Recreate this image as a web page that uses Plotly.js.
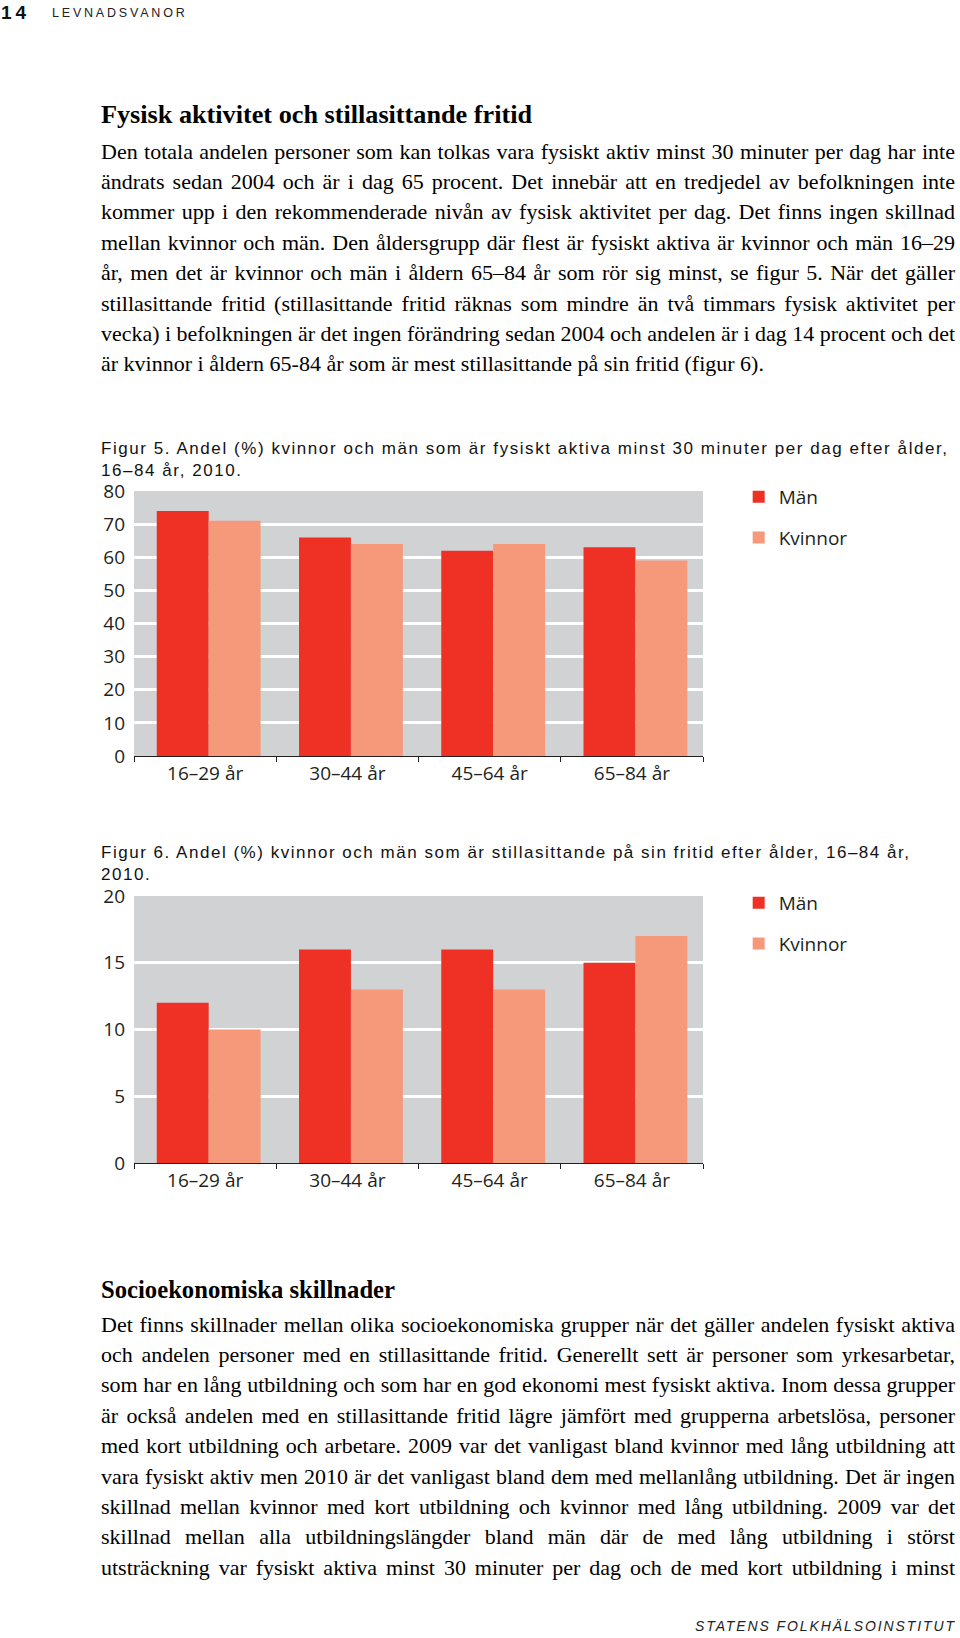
<!DOCTYPE html>
<html>
<head>
<meta charset="utf-8">
<script src="https://cdn.plot.ly/plotly-3.0.1.min.js"></script>
<style>
  html, body { margin:0; padding:0; background:#fff; }
  body { width:960px; height:1638px; position:relative; overflow:hidden; }
  .ln { position:absolute; left:101px; white-space:nowrap; color:#111; }
  .ln span { display:inline-block; transform-origin:0 50%; }
  .body { font-family:"Liberation Serif","Times New Roman",serif; font-size:22px; line-height:30px; height:30px; color:#000; }
  .head { font-family:"Liberation Serif","Times New Roman",serif; font-size:25px; font-weight:bold; line-height:30px; height:30px; color:#000; }
  .cap { font-family:"Liberation Sans",Arial,sans-serif; font-size:17px; line-height:14px; height:14px; color:#111; }
  .chart { position:absolute; left:0; width:960px; }
</style>
</head>
<body>
<div class="ln" style="left:1px;top:0px;font-family:'Liberation Sans',Arial,sans-serif;font-weight:bold;font-size:19px;line-height:25px;letter-spacing:4px;color:#111">14</div>
<div class="ln" style="left:52px;top:1px;font-family:'Liberation Sans',Arial,sans-serif;font-size:12.5px;line-height:24px;letter-spacing:2.8px;color:#222">LEVNADSVANOR</div>

<div class="ln head" data-mode="scale" data-w="431" style="top:100px"><span>Fysisk aktivitet och stillasittande fritid</span></div>
<div id="p1"></div>

<div class="ln cap" data-mode="ls" data-w="846" data-grp="c5" style="top:442px"><span>Figur 5. Andel (%) kvinnor och män som är fysiskt aktiva minst 30 minuter per dag efter ålder,</span></div>
<div class="ln cap" data-mode="lsf" data-grp="c5" style="top:463.5px"><span>16–84 år, 2010.</span></div>

<div id="fig5" class="chart" style="top:461px;height:329px"></div>

<div class="ln cap" data-mode="ls" data-w="808" data-grp="c6" style="top:846px"><span>Figur 6. Andel (%) kvinnor och män som är stillasittande på sin fritid efter ålder, 16–84 år,</span></div>
<div class="ln cap" data-mode="lsf" data-grp="c6" style="top:868px"><span>2010.</span></div>

<div id="fig6" class="chart" style="top:866px;height:334px"></div>

<div class="ln head" data-mode="scale" data-w="294" style="top:1275px"><span>Socioekonomiska skillnader</span></div>
<div id="p2"></div>

<div class="ln" data-mode="ls" data-w="259" style="left:695px;top:1615px;font-family:'Liberation Sans',Arial,sans-serif;font-style:italic;font-size:14px;line-height:22px;color:#222"><span>STATENS FOLKHÄLSOINSTITUT</span></div>

<script>
// ---------- data ----------
const categories = ['16–29 år', '30–44 år', '45–64 år', '65–84 år'];
const seriesNames = ['Män', 'Kvinnor'];
const fig5Man = [74, 66, 62, 63];
const fig5Kvinnor = [71, 64, 64, 59];
const fig5Ticks = [0, 10, 20, 30, 40, 50, 60, 70, 80];
const fig6Man = [12, 16, 16, 15];
const fig6Kvinnor = [10, 13, 13, 17];
const fig6Ticks = [0, 5, 10, 15, 20];

const para1 = [
  'Den totala andelen personer som kan tolkas vara fysiskt aktiv minst 30 minuter per dag har inte',
  'ändrats sedan 2004 och är i dag 65 procent. Det innebär att en tredjedel av befolkningen inte',
  'kommer upp i den rekommenderade nivån av fysisk aktivitet per dag. Det finns ingen skillnad',
  'mellan kvinnor och män. Den åldersgrupp där flest är fysiskt aktiva är kvinnor och män 16–29',
  'år, men det är kvinnor och män i åldern 65–84 år som rör sig minst, se figur 5. När det gäller',
  'stillasittande fritid (stillasittande fritid räknas som mindre än två timmars fysisk aktivitet per',
  'vecka) i befolkningen är det ingen förändring sedan 2004 och andelen är i dag 14 procent och det',
  'är kvinnor i åldern 65-84 år som är mest stillasittande på sin fritid (figur 6).'
];
const para2 = [
  'Det finns skillnader mellan olika socioekonomiska grupper när det gäller andelen fysiskt aktiva',
  'och andelen personer med en stillasittande fritid. Generellt sett är personer som yrkesarbetar,',
  'som har en lång utbildning och som har en god ekonomi mest fysiskt aktiva. Inom dessa grupper',
  'är också andelen med en stillasittande fritid lägre jämfört med grupperna arbetslösa, personer',
  'med kort utbildning och arbetare. 2009 var det vanligast bland kvinnor med lång utbildning att',
  'vara fysiskt aktiv men 2010 är det vanligast bland dem med mellanlång utbildning. Det är ingen',
  'skillnad mellan kvinnor med kort utbildning och kvinnor med lång utbildning. 2009 var det',
  'skillnad mellan alla utbildningslängder bland män där de med lång utbildning i störst',
  'utsträckning var fysiskt aktiva minst 30 minuter per dag och de med kort utbildning i minst'
];

// ---------- text layout ----------
function addPara(containerId, lines, firstCenter, step, lastLeft) {
  const c = document.getElementById(containerId);
  lines.forEach((t, i) => {
    const d = document.createElement('div');
    d.className = 'ln body';
    d.style.top = (firstCenter + i * step - 15) + 'px';
    const isLast = lastLeft && i === lines.length - 1;
    d.dataset.mode = isLast ? 'none' : 'justify';
    d.dataset.w = '854';
    const s = document.createElement('span');
    s.textContent = t;
    d.appendChild(s);
    c.appendChild(d);
  });
}
addPara('p1', para1, 151.5, 30.4, true);
addPara('p2', para2, 1324.6, 30.4, false);

function fitText() {
  const grpLS = {};
  document.querySelectorAll('.ln[data-mode]').forEach(d => {
    const mode = d.dataset.mode;
    const s = d.querySelector('span');
    if (!s) return;
    const target = parseFloat(d.dataset.w);
    const nat = s.getBoundingClientRect().width;
    const txt = s.textContent;
    if (mode === 'justify') {
      const spaces = (txt.match(/ /g) || []).length;
      if (nat < target && spaces) s.style.wordSpacing = ((target - nat) / spaces) + 'px';
      else if (nat > target) s.style.transform = 'scaleX(' + (target / nat) + ')';
    } else if (mode === 'scale') {
      s.style.transform = 'scaleX(' + (target / nat) + ')';
    } else if (mode === 'ls') {
      const ls = (target - nat) / (txt.length - 1);
      s.style.letterSpacing = ls + 'px';
      if (d.dataset.grp) grpLS[d.dataset.grp] = ls;
    } else if (mode === 'lsf') {
      const ls = grpLS[d.dataset.grp];
      if (ls !== undefined) s.style.letterSpacing = ls + 'px';
    }
  });
}
fitText();

// ---------- charts ----------
const colMan = '#ee3124';
const colKv = '#f5997a';
const gridGray = '#d1d2d4';
const labelFont = { family: '"Open Sans", "Noto Sans", sans-serif', size: 19, color: '#231f20' };

function makeChart(id, man, kv, ticks, ymax, topMargin, bottomMargin, legendY) {
  const traces = [
    { type: 'bar', name: seriesNames[0], x: categories, y: man, marker: { color: colMan },
      offset: -0.34, width: 0.365, legendgroup: 'm', hoverinfo: 'skip' },
    { type: 'bar', name: seriesNames[1], x: categories, y: kv, marker: { color: colKv },
      offset: 0.025, width: 0.365, legendgroup: 'k', hoverinfo: 'skip' }
  ];
  const layout = {
    width: 960,
    height: document.getElementById(id).offsetHeight,
    margin: { l: 134, r: 257, t: topMargin, b: bottomMargin, autoexpand: false },
    paper_bgcolor: 'rgba(0,0,0,0)',
    plot_bgcolor: gridGray,
    barmode: 'group',
    showlegend: true,
    legend: {
      x: 1.0627, xanchor: 'left', y: legendY, yanchor: 'top',
      font: labelFont, traceorder: 'grouped', tracegroupgap: 13,
      bgcolor: 'rgba(0,0,0,0)', borderwidth: 0
    },
    xaxis: {
      type: 'category', categoryorder: 'array', categoryarray: categories,
      showline: true, linecolor: '#231f20', linewidth: 1,
      ticks: 'outside', tickson: 'boundaries', ticklen: 5, tickcolor: '#231f20', tickwidth: 1,
      tickfont: labelFont, showgrid: false, zeroline: false, fixedrange: true
    },
    yaxis: {
      range: [0, ymax], tickmode: 'array', tickvals: ticks, ticktext: ticks.map(String),
      showgrid: true, gridcolor: '#ffffff', gridwidth: 3,
      showline: false, zeroline: false, ticks: '', ticklabelstandoff: 8,
      tickfont: labelFont, fixedrange: true
    },
    font: labelFont
  };
  Plotly.newPlot(id, traces, layout, { staticPlot: true, displayModeBar: false });
}

makeChart('fig5', fig5Man, fig5Kvinnor, fig5Ticks, 80, 30, 34, 1.049);
makeChart('fig6', fig6Man, fig6Kvinnor, fig6Ticks, 20, 30, 37, 1.045);
</script>
</body>
</html>
